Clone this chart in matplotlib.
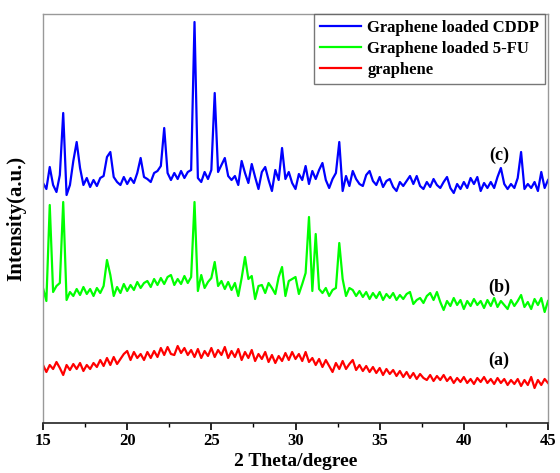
import numpy as np
import matplotlib
matplotlib.use("Agg")
import matplotlib.pyplot as plt
from matplotlib.ticker import MultipleLocator

plt.rcParams['font.family'] = ['Liberation Serif', 'DejaVu Serif']
plt.rcParams['font.weight'] = 'bold'

# 2 theta grid, 0.2 degree step, 15..45
two_theta = np.linspace(15, 45, 151)

# (c) graphene loaded CDDP (offset intensity, a.u.)
cddp = [
    240, 234, 256, 238, 231, 248, 310, 228, 238, 262,
    281, 255, 238, 245, 236, 243, 237, 245, 247, 266,
    271, 246, 241, 238, 246, 239, 245, 240, 250, 265,
    246, 244, 241, 250, 252, 257, 295, 250, 243, 250,
    244, 252, 245, 251, 253, 401, 245, 241, 251, 244,
    253, 330, 251, 258, 265, 247, 243, 247, 238, 262,
    250, 240, 259, 246, 234, 251, 256, 243, 232, 253,
    243, 275, 244, 251, 240, 234, 249, 243, 257, 239,
    252, 244, 253, 260, 243, 235, 244, 250, 281, 232,
    247, 237, 252, 244, 239, 237, 248, 252, 242, 238,
    246, 236, 242, 244, 236, 232, 241, 237, 242, 247,
    239, 247, 237, 234, 241, 236, 244, 238, 235, 241,
    246, 235, 230, 239, 234, 241, 235, 245, 239, 246,
    232, 240, 235, 241, 235, 246, 255, 239, 234, 239,
    235, 245, 271, 234, 239, 235, 241, 232, 251, 235,
    243,
]

# (b) graphene loaded 5-FU
fu = [
    135, 122, 218, 131, 137, 140, 221, 123, 131, 127,
    134, 128, 136, 129, 134, 127, 135, 130, 137, 163,
    148, 127, 136, 130, 139, 132, 138, 133, 141, 135,
    140, 142, 136, 144, 138, 145, 139, 146, 148, 138,
    144, 139, 147, 140, 146, 221, 132, 148, 135, 141,
    145, 161, 137, 142, 134, 141, 133, 140, 127, 145,
    166, 144, 147, 124, 137, 138, 130, 140, 135, 129,
    146, 156, 127, 142, 144, 146, 129, 139, 150, 206,
    132, 189, 134, 130, 135, 127, 133, 135, 180, 144,
    127, 135, 133, 127, 132, 126, 131, 124, 130, 125,
    131, 123, 129, 125, 130, 123, 128, 124, 129, 131,
    119, 123, 125, 120, 127, 130, 123, 131, 121, 113,
    122, 117, 125, 118, 123, 114, 122, 117, 124, 118,
    122, 115, 123, 117, 125, 116, 122, 118, 114, 123,
    117, 122, 128, 116, 121, 114, 124, 118, 125, 111,
    122,
]

# (a) graphene
graphene = [
    58, 51, 58, 54, 61, 55, 48, 58, 53, 59,
    54, 60, 52, 58, 54, 60, 56, 63, 57, 65,
    58, 66, 59, 64, 69, 72, 63, 71, 65, 69,
    63, 71, 65, 72, 66, 75, 68, 76, 69, 68,
    77, 70, 75, 68, 73, 66, 74, 65, 72, 67,
    75, 66, 73, 68, 76, 65, 72, 66, 74, 63,
    71, 65, 73, 62, 69, 64, 71, 61, 68, 60,
    67, 62, 70, 63, 71, 64, 69, 62, 71, 61,
    65, 58, 64, 56, 63, 57, 51, 60, 54, 62,
    54, 59, 63, 53, 58, 52, 57, 51, 56, 50,
    55, 48, 54, 49, 53, 47, 52, 46, 51, 45,
    50, 44, 49, 45, 43, 48, 42, 47, 43, 48,
    42, 46, 40, 45, 41, 46, 40, 44, 39, 45,
    41, 46, 40, 44, 39, 45, 40, 44, 38, 43,
    39, 44, 37, 43, 38, 46, 35, 43, 38, 44,
    40,
]

series_labels = ['Graphene loaded CDDP', 'Graphene loaded 5-FU', 'graphene']
tags = ['(c)', '(b)', '(a)']
tag_y = [268, 136, 63]

fig = plt.figure(figsize=(5.6, 4.73), dpi=100)
ax = fig.add_axes([0.0768, 0.1057, 0.9018, 0.8647])

ax.plot(two_theta, cddp, color='#0000ff', lw=1.6, label=series_labels[0])
ax.plot(two_theta, fu, color='#00ff00', lw=1.6, label=series_labels[1])
ax.plot(two_theta, graphene, color='#ff0000', lw=1.6, label=series_labels[2])

for t, y in zip(tags, tag_y):
    ax.text(42.1, y, t, ha='center', va='center', fontsize=13, fontweight='bold')

ax.set_xlim(15, 45)
ax.set_ylim(0, 409)
ax.xaxis.set_major_locator(MultipleLocator(5))
ax.xaxis.set_minor_locator(MultipleLocator(2.5))
ax.tick_params(axis='x', which='major', direction='out', length=5, width=1.2,
               labelsize=12, pad=2)
ax.tick_params(axis='x', which='minor', direction='out', length=3, width=1.0)
ax.set_yticks([])
for lab in ax.get_xticklabels():
    lab.set_fontweight('bold')

for side in ['top', 'right', 'left']:
    ax.spines[side].set_color('#999999')
    ax.spines[side].set_linewidth(1.0)
ax.spines['bottom'].set_color('#222222')
ax.spines['bottom'].set_linewidth(1.2)

ax.set_xlabel('2 Theta/degree', fontsize=14, fontweight='bold', labelpad=3)
ax.set_ylabel('Intensity(a.u.)', fontsize=15, fontweight='bold', labelpad=12)

leg = ax.legend(loc='upper right', bbox_to_anchor=(0.994, 1.0), fontsize=12,
                frameon=True, fancybox=False, borderaxespad=0.0,
                handlelength=2.5, labelspacing=0.3, borderpad=0.35,
                handletextpad=0.35)
leg.get_frame().set_edgecolor('#555555')
leg.get_frame().set_linewidth(1.0)
for txt in leg.get_texts():
    txt.set_fontweight('bold')

fig.savefig('out.png', dpi=100)
